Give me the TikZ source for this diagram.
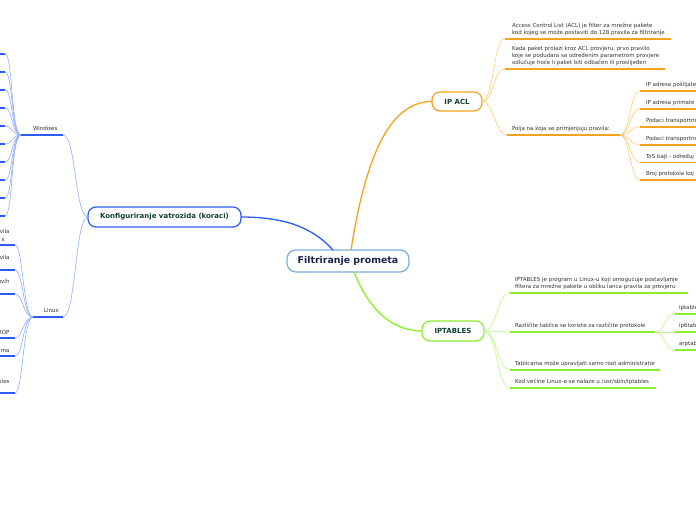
\documentclass[tikz,border=0pt]{standalone}
\usepackage{fontspec}
\setmainfont{DejaVu Sans}
\definecolor{rootline}{HTML}{7AAEE0}
\definecolor{blueM}{HTML}{2B5CF2}
\definecolor{blueL}{HTML}{8FAEF8}
\definecolor{orangeM}{HTML}{F7A21B}
\definecolor{orangeL}{HTML}{FFCC73}
\definecolor{greenM}{HTML}{8AEE2A}
\definecolor{greenL}{HTML}{BDF58A}
\definecolor{txt}{HTML}{333333}
\definecolor{navy}{HTML}{17264A}
\definecolor{dkgreen}{HTML}{123F33}
\begin{document}
\begin{tikzpicture}[x=1pt,y=-1pt,
  every node/.style={inner sep=0pt,outer sep=0pt},
  rootbox/.style={draw=rootline,line width=1.2pt,rounded corners=9pt,fill=white,
    minimum width=122pt,minimum height=22pt,font=\bfseries\fontsize{9.4}{11}\selectfont,text=navy},
  mainbox/.style={line width=1.2pt,rounded corners=8pt,fill=white,minimum height=20pt,
    font=\bfseries\fontsize{7}{8}\selectfont,text=dkgreen},
  leaf/.style={font=\fontsize{5.5}{7.4}\selectfont,text=txt,align=left,anchor=south west},
  lleaf/.style={font=\fontsize{5.5}{7.4}\selectfont,text=txt,anchor=base east},
  uline/.style={line width=1.6pt},
  conn/.style={line width=0.6pt},
  oconn/.style={conn,orangeL},
  gconn/.style={conn,greenL},
  bconn/.style={conn,blueL}]
\useasboundingbox (0,0) rectangle (696,520);

% ---------- main nodes ----------
\node[rootbox] (root) at (348,261) {Filtriranje prometa};
\node[mainbox,draw=blueM,minimum width=153pt] (konf) at (164.5,217) {Konfiguriranje vatrozida (koraci)};
\node[mainbox,draw=orangeM,minimum width=50pt,minimum height=19pt] (ipacl) at (457,101.5) {IP ACL};
\node[mainbox,draw=greenM,minimum width=62pt] (ipt) at (453,331) {IPTABLES};

\draw[blueM,line width=1.3pt] ([xshift=-15pt]root.north) .. controls +(-20,-22) and +(45,0) .. (konf.east);
\draw[orangeM,line width=1.3pt] ([xshift=3pt]root.north) .. controls +(15,-95) and +(-42,0) .. (ipacl.west);
\draw[greenM,line width=1.3pt] ([xshift=6pt]root.south) .. controls +(14,35) and +(-32,0) .. (ipt.west);

% ---------- IP ACL ----------
\coordinate (a1s) at (505,38.7); \coordinate (a1e) at (671,38.7);
\coordinate (a2s) at (505,69); \coordinate (a2e) at (665,69);
\coordinate (a3s) at (507,135); \coordinate (a3e) at (620,135);
\foreach \c in {a1s,a2s,a3s}{\draw[oconn] (ipacl.east) .. controls +(12,0) and +(-12,0) .. (\c);}
\draw[orangeM,uline] (a1s) -- (a1e);
\draw[orangeM,uline] (a2s) -- (a2e);
\draw[orangeM,uline] (a3s) -- (a3e);
\node[leaf] (a1) at (512,36.9) {Access Control List (ACL) je filter za mrežne pakete\\kod kojeg se može postaviti do 128 pravila za filtriranje\strut};
\node[leaf] (a2) at (512,67.2) {Kada paket prolazi kroz ACL provjeru, prvo pravilo\\koje se podudara sa određenim parametrom provjere\\odlučuje hoće li paket biti odbačen ili proslijeđen\strut};
\node[leaf] (a3) at (512,133.2) {Polja na koja se primjenjuju pravila:\strut};

\foreach \i/\y/\t in {1/91/IP adresa pošiljate,2/109/IP adresa primate,3/127/Podaci transportno,4/145/Podaci transportno,5/162.5/ToS bajt - određuj,6/180/Broj protokola koj}{
  \coordinate (p\i s) at (640,\y);
  \coordinate (p\i e) at (697,\y);
  \draw[oconn] (a3e) .. controls +(10,0) and +(-10,0) .. (p\i s);
  \draw[orangeM,uline] (p\i s) -- (p\i e);
  \node[leaf] (p\i) at (646,\y-1.8) {\t\strut};
}

% ---------- IPTABLES ----------
\coordinate (t1s) at (510,293); \coordinate (t1e) at (688,293);
\coordinate (t2s) at (510,332); \coordinate (t2e) at (655,332);
\coordinate (t3s) at (510,370); \coordinate (t3e) at (660,370);
\coordinate (t4s) at (510,388); \coordinate (t4e) at (656,388);
\foreach \c in {t1s,t2s,t3s,t4s}{\draw[gconn] (ipt.east) .. controls +(13,0) and +(-13,0) .. (\c);}
\foreach \c in {1,2,3,4}{\draw[greenM,uline] (t\c s) -- (t\c e);}
\node[leaf] (t1) at (515,291.2) {IPTABLES je program u Linux-u koji omogućuje postavljanje\\filtera za mrežne pakete u obliku lanca pravila za provjeru\strut};
\node[leaf] (t2) at (515,330.2) {Različite tablice se koriste za različite protokole\strut};
\node[leaf] (t3) at (515,368.2) {Tablicama može upravljati samo root administrator\strut};
\node[leaf] (t4) at (515,386.2) {Kod većine Linux-a se nalaze u /usr/sbin/iptables\strut};

\foreach \i/\y/\t in {1/314/iptable,2/332/ip6tab,3/350/arptab}{
  \coordinate (q\i s) at (675,\y);
  \coordinate (q\i e) at (697,\y);
  \draw[gconn] (t2e) .. controls +(10,0) and +(-10,0) .. (q\i s);
  \draw[greenM,uline] (q\i s) -- (q\i e);
  \node[leaf] (q\i) at (679,\y-1.8) {\t\strut};
}

% ---------- Windows ----------
\coordinate (ws) at (21,135); \coordinate (we) at (63,135);
\draw[bconn] (konf.west) .. controls +(-13,0) and +(13,0) .. (we);
\draw[blueM,uline] (ws) -- (we);
\node[font=\fontsize{5.5}{7.4}\selectfont,text=txt,anchor=base west] (win) at (33,130) {Windows};
\foreach \i/\y in {1/54,2/72,3/90,4/108,5/126,6/144,7/162,8/180,9/198,10/216}{
  \coordinate (w\i) at (5,\y);
  \draw[blueM,uline] (-1,\y) -- (w\i);
  \draw[bconn] (ws) .. controls +(-10,0) and +(8,0) .. (w\i);
}

% ---------- Linux ----------
\coordinate (ls) at (33,317); \coordinate (le) at (63,317);
\draw[bconn] (konf.west) .. controls +(-13,0) and +(13,0) .. (le);
\draw[blueM,uline] (ls) -- (le);
\node[font=\fontsize{5.5}{7.4}\selectfont,text=txt,anchor=base west] (lin) at (44,312) {Linux};
\foreach \i/\y in {1/245,2/270,3/294,4/338,5/356,6/393}{
  \coordinate (l\i) at (15,\y);
  \draw[blueM,uline] (-1,\y) -- (l\i);
  \draw[bconn] (ls) .. controls +(-10,0) and +(8,0) .. (l\i);
}
\node[lleaf] (lt1a) at (9.5,233.5) {vila};
\node[lleaf] (lt1b) at (4.5,241) {s};
\node[lleaf] (lt2) at (9.5,259) {vila};
\node[lleaf] (lt3) at (9.5,283) {ovih};
\node[lleaf] (lt4) at (9.5,334) {ROP};
\node[lleaf] (lt5) at (9.5,352) {ima};
\node[lleaf] (lt6) at (9.5,383) {oles};
\end{tikzpicture}
\end{document}
